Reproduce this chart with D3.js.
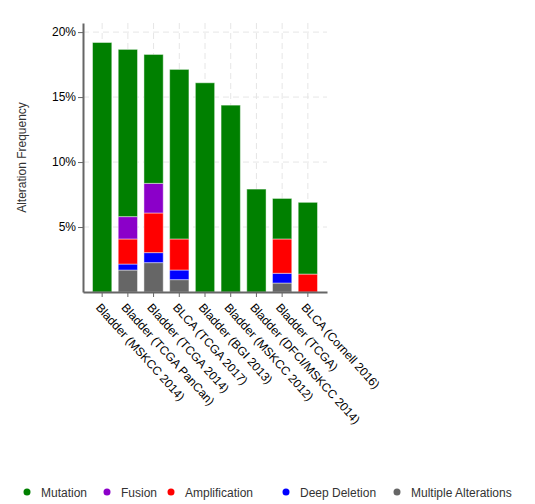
<!DOCTYPE html>
<html>
<head>
<meta charset="utf-8">
<script src="https://cdn.jsdelivr.net/npm/d3@7"></script>
<style>
  body { margin: 0; background: #fff; }
  svg { font-family: "Liberation Sans", Arial, sans-serif; }
</style>
</head>
<body>
<svg id="chart" width="535" height="504"></svg>
<script>
const studies = [
  'Bladder (MSKCC 2014)', 'Bladder (TCGA PanCan)', 'Bladder (TCGA 2014)',
  'BLCA (TCGA 2017)', 'Bladder (BGI 2013)', 'Bladder (MSKCC 2012)',
  'Bladder (DFCI/MSKCC 2014)', 'Bladder (TCGA)', 'BLCA (Cornell 2016)',
];
// percent of cases, stacked bottom -> top
const multiple = [0, 1.69, 2.26, 0.95, 0, 0, 0, 0.69, 0];
const deepDeletion = [0, 0.46, 0.77, 0.74, 0, 0, 0, 0.75, 0];
const amplification = [0, 1.93, 3.05, 2.39, 0, 0, 0, 2.64, 1.38];
const fusion = [0, 1.72, 2.28, 0, 0, 0, 0, 0, 0];
const mutation = [19.2, 12.87, 9.92, 13.05, 16.1, 14.38, 7.92, 3.12, 5.52];
const yTicks = [5, 10, 15, 20];
const yMax = 20.7;

const keys = ['multiple', 'deepDeletion', 'amplification', 'fusion', 'mutation'];
const colors = {
  mutation: '#008000',
  fusion: '#8B00C9',
  amplification: '#ff0000',
  deepDeletion: '#0000ff',
  multiple: '#666666',
};
const legendItems = [
  { key: 'mutation', label: 'Mutation', x: 27 },
  { key: 'fusion', label: 'Fusion', x: 107 },
  { key: 'amplification', label: 'Amplification', x: 171 },
  { key: 'deepDeletion', label: 'Deep Deletion', x: 286 },
  { key: 'multiple', label: 'Multiple Alterations', x: 397 },
];

const table = studies.map((s, i) => ({
  study: s,
  multiple: multiple[i],
  deepDeletion: deepDeletion[i],
  amplification: amplification[i],
  fusion: fusion[i],
  mutation: mutation[i],
}));

const margin = { left: 83, top: 23, right: 208, bottom: 212 };
const svg = d3.select('#chart');
const width = 535 - margin.left - margin.right;
const height = 504 - margin.top - margin.bottom;

const x = d3.scaleBand()
  .domain(studies)
  .range([0, width])
  .paddingInner(0.25)
  .paddingOuter(0.37);

const y = d3.scaleLinear()
  .domain([0, yMax])
  .range([height, 0]);

const g = svg.append('g')
  .attr('transform', `translate(${margin.left},${margin.top})`);

// grid
g.append('g')
  .selectAll('line.h')
  .data(yTicks)
  .join('line')
  .attr('x1', 0)
  .attr('x2', width)
  .attr('y1', (d) => y(d))
  .attr('y2', (d) => y(d))
  .attr('stroke', '#e6e6e6')
  .attr('stroke-dasharray', '6,4');

g.append('g')
  .selectAll('line.v')
  .data(studies)
  .join('line')
  .attr('x1', (d) => x(d) + x.bandwidth() / 2)
  .attr('x2', (d) => x(d) + x.bandwidth() / 2)
  .attr('y1', 0)
  .attr('y2', height)
  .attr('stroke', '#e6e6e6')
  .attr('stroke-dasharray', '6,4');

const series = d3.stack().keys(keys)(table);

g.append('g')
  .selectAll('g')
  .data(series)
  .join('g')
  .attr('fill', (d) => colors[d.key])
  .selectAll('rect')
  .data((d) => d.filter((v) => v[1] - v[0] > 0))
  .join('rect')
  .attr('x', (d) => x(d.data.study))
  .attr('width', x.bandwidth())
  .attr('y', (d) => y(d[1]))
  .attr('height', (d) => y(d[0]) - y(d[1]))
  .attr('stroke', '#ffffff')
  .attr('stroke-opacity', 0.45)
  .attr('stroke-width', 1);

// y axis
const yAxis = g.append('g')
  .call(d3.axisLeft(y).tickValues(yTicks).tickFormat((d) => `${d}%`).tickSize(5).tickSizeOuter(0));
yAxis.select('.domain').attr('stroke', '#666').attr('stroke-width', 2);
yAxis.selectAll('.tick line').attr('stroke', '#666');
yAxis.selectAll('.tick text')
  .attr('font-size', 12)
  .attr('fill', '#000')
  .attr('x', -7);

// x axis
const xAxis = g.append('g')
  .attr('transform', `translate(0,${height})`)
  .call(d3.axisBottom(x).tickSize(5).tickSizeOuter(0));
xAxis.select('.domain').attr('stroke', '#666').attr('stroke-width', 2);
xAxis.selectAll('.tick line').attr('stroke', '#666');
xAxis.selectAll('.tick text')
  .attr('font-size', 12)
  .attr('fill', '#000')
  .attr('x', 0)
  .attr('y', 0)
  .attr('dy', 0)
  .attr('text-anchor', 'start')
  .attr('transform', 'translate(-7,16) rotate(48)');

svg.selectAll('g').attr('font-family', null);

// y title
svg.append('text')
  .attr('transform', `translate(26,${margin.top + height / 2}) rotate(-90)`)
  .attr('text-anchor', 'middle')
  .attr('font-size', 12)
  .attr('fill', '#333')
  .text('Alteration Frequency');

// legend
const legend = svg.append('g').attr('transform', 'translate(0,492)');
const item = legend.selectAll('g')
  .data(legendItems)
  .join('g')
  .attr('transform', (d) => `translate(${d.x},0)`);
item.append('circle')
  .attr('r', 3.5)
  .attr('fill', (d) => colors[d.key]);
item.append('text')
  .attr('x', 14)
  .attr('y', 4.5)
  .attr('font-size', 12)
  .attr('fill', '#333')
  .text((d) => d.label);
</script>
</body>
</html>
